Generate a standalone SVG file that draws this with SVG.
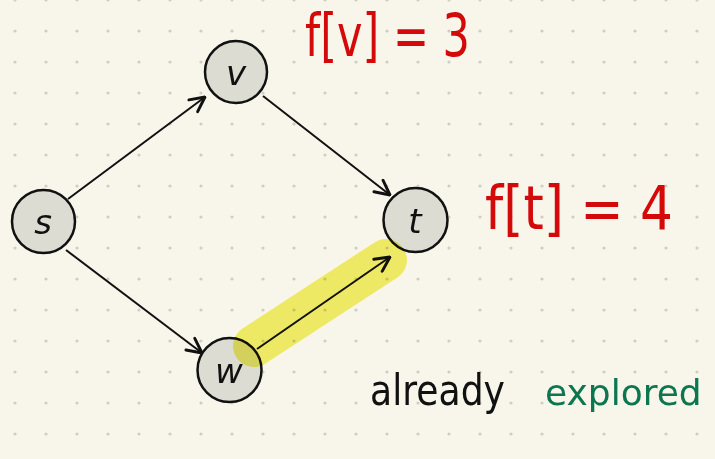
<svg xmlns="http://www.w3.org/2000/svg" width="715" height="459" viewBox="0 0 715 459">
<defs>
<pattern id="dots" x="15" y="0" width="31" height="31" patternUnits="userSpaceOnUse">
<circle cx="0" cy="0" r="1.6" fill="#cfcdc4"/>
<circle cx="31" cy="0" r="1.6" fill="#cfcdc4"/>
<circle cx="0" cy="31" r="1.6" fill="#cfcdc4"/>
<circle cx="31" cy="31" r="1.6" fill="#cfcdc4"/>
</pattern>
<marker id="arr" viewBox="0 0 16 16" refX="15" refY="8" markerWidth="18" markerHeight="18" markerUnits="userSpaceOnUse" orient="auto">
<path d="M2,1.5 L15,8 L2,14.5" fill="none" stroke="#111" stroke-width="2.6" stroke-linecap="round" stroke-linejoin="round"/>
</marker>
</defs>
<style>
.node circle{fill:#dcdcd2;stroke:#111;stroke-width:2.5}
.node text{font-family:"DejaVu Sans",sans-serif;font-style:italic;font-size:34px;fill:#111;text-anchor:middle}
.edge{stroke:#111;stroke-width:2;fill:none;marker-end:url(#arr)}
.hand{font-family:"DejaVu Sans",sans-serif;font-weight:normal}
</style>
<rect width="715" height="459" fill="#f8f6eb"/>
<rect width="715" height="459" fill="url(#dots)"/>
<g id="connectors">
<line class="edge" x1="68" y1="199" x2="205" y2="97"/>
<line class="edge" x1="263" y1="96" x2="390" y2="195"/>
<line class="edge" x1="66" y1="250" x2="202" y2="353"/>
<line class="edge" x1="257" y1="349" x2="390" y2="257"/>
</g>
<g id="node-s" class="node"><circle cx="43.5" cy="221.5" r="31.5"/><text x="43" y="234">s</text></g>
<g id="node-v" class="node"><circle cx="236" cy="72" r="31"/><text x="236" y="85">v</text></g>
<g id="node-t" class="node"><circle cx="415.5" cy="220" r="32"/><text x="415" y="233">t</text></g>
<g id="node-w" class="node"><circle cx="229.5" cy="370" r="32"/><text x="229" y="383">w</text></g>
<line id="highlight" x1="254" y1="346" x2="386" y2="260" stroke="#f3ef4a" stroke-width="42" stroke-linecap="round" opacity="0.8" style="mix-blend-mode:multiply"/>
<g id="labels">
<text class="hand" x="305" y="56" font-size="58" fill="#d40a0a" textLength="165" lengthAdjust="spacingAndGlyphs">f[v] = 3</text>
<text class="hand" x="485" y="229" font-size="60" fill="#d40a0a" textLength="188" lengthAdjust="spacingAndGlyphs">f[t] = 4</text>
<text class="hand" x="370" y="405" font-size="42" fill="#111" textLength="135" lengthAdjust="spacingAndGlyphs">already</text>
<text class="hand" x="545" y="405" font-size="36" fill="#0b7650">explored</text>
</g>
</svg>
